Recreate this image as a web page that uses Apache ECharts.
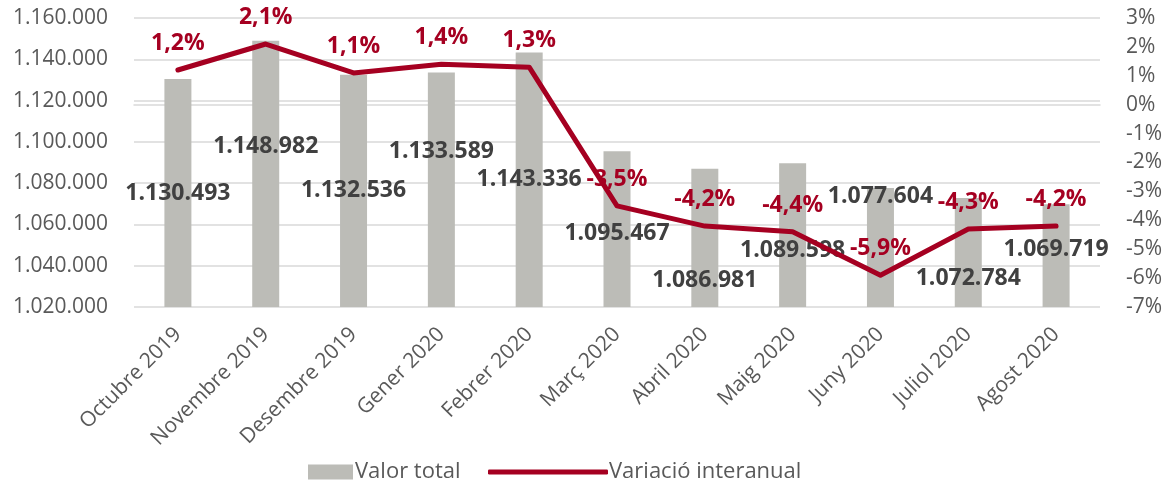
<!DOCTYPE html>
<html>
<head>
<meta charset="utf-8">
<script src="https://cdn.jsdelivr.net/npm/echarts@6/dist/echarts.min.js"></script>
<style>
  html, body { margin: 0; padding: 0; background: #fff; }
  #chart { width: 1176px; height: 487px; }
</style>
</head>
<body>
<div id="chart"></div>
<script>
// dades
const months = ['Octubre 2019', 'Novembre 2019', 'Desembre 2019', 'Gener 2020', 'Febrer 2020',
  'Març 2020', 'Abril 2020', 'Maig 2020', 'Juny 2020', 'Juliol 2020', 'Agost 2020']
const valorTotal = [1130493, 1148982, 1132536, 1133589, 1143336, 1095467, 1086981, 1089598, 1077604, 1072784, 1069719]
const variacio = [1.2, 2.1, 1.1, 1.4, 1.3, -3.5, -4.2, -4.4, -5.9, -4.3, -4.2]

// desplaçament vertical de les etiquetes de les barres (px), com a l'original
const labelNudge = [0, -27, 0, -38, 0, 4, 43, 15, -51, 26, -6]

const font = '"Open Sans", "Noto Sans", sans-serif'
const red = '#A50021'
const grey = '#BCBCB7'

// 1.130.493
function thousands(v) {
  return String(Math.round(v)).replace(/\B(?=(\d{3})+(?!\d))/g, '.')
}

let chart = echarts.init(document.getElementById('chart'))

let option = {
  animation: false,
  textStyle: { fontFamily: font },
  grid: { left: 134, right: 76, top: 18, bottom: 180 },
  legend: [
    {
      data: ['Valor total'],
      left: 303, top: 456,
      itemWidth: 45, itemHeight: 15, itemGap: 6,
      icon: 'rect',
      textStyle: { fontSize: 22, color: '#595959', fontFamily: font, padding: [0, 0, 0, -3] }
    },
    {
      data: ['Variació interanual'],
      left: 483, top: 456,
      itemWidth: 120, itemHeight: 5,
      icon: 'roundRect',
      textStyle: { fontSize: 22, color: '#595959', fontFamily: font, padding: [0, 0, 0, -4] }
    }
  ],
  xAxis: {
    type: 'category',
    data: months,
    axisTick: { show: false },
    axisLine: { lineStyle: { color: '#D9D9D9', width: 1.5 } },
    axisLabel: {
      rotate: 45,
      margin: 24,
      fontSize: 21,
      color: '#595959',
      fontFamily: font
    }
  },
  yAxis: [
    {
      type: 'value',
      min: 1020000,
      max: 1160000,
      interval: 20000,
      axisLabel: {
        fontSize: 21, color: '#595959', margin: 26, fontFamily: font,
        formatter: v => thousands(v)
      },
      splitLine: { lineStyle: { color: '#D9D9D9', width: 1.5 } },
      axisLine: { show: false },
      axisTick: { show: false }
    },
    {
      type: 'value',
      min: -7,
      max: 3,
      interval: 1,
      position: 'right',
      axisLabel: {
        fontSize: 21, color: '#595959', margin: 26, fontFamily: font,
        formatter: v => v + '%'
      },
      splitLine: { show: false },
      axisLine: { show: false },
      axisTick: { show: false }
    }
  ],
  series: [
    {
      name: 'Valor total',
      type: 'bar',
      barWidth: 27,
      itemStyle: { color: grey },
      data: valorTotal.map((v, i) => ({
        value: v,
        label: { offset: [0, labelNudge[i]] }
      })),
      label: {
        show: true,
        position: 'inside',
        fontSize: 23,
        fontWeight: 'bold',
        color: '#404040',
        fontFamily: font,
        formatter: p => thousands(p.value)
      },
      z: 2
    },
    {
      name: 'Variació interanual',
      type: 'line',
      yAxisIndex: 1,
      data: variacio,
      symbol: 'circle',
      symbolSize: 0.1,
      showAllSymbol: true,
      lineStyle: { color: red, width: 5, cap: 'round', join: 'round' },
      itemStyle: { color: red },
      label: {
        show: true,
        position: 'top',
        distance: 15,
        fontSize: 23,
        fontWeight: 'bold',
        color: red,
        fontFamily: font,
        formatter: p => String(p.value).replace('.', ',') + '%'
      },
      labelLayout: { hideOverlap: false },
      z: 3
    }
  ]
}

chart.setOption(option)
</script>
</body>
</html>
